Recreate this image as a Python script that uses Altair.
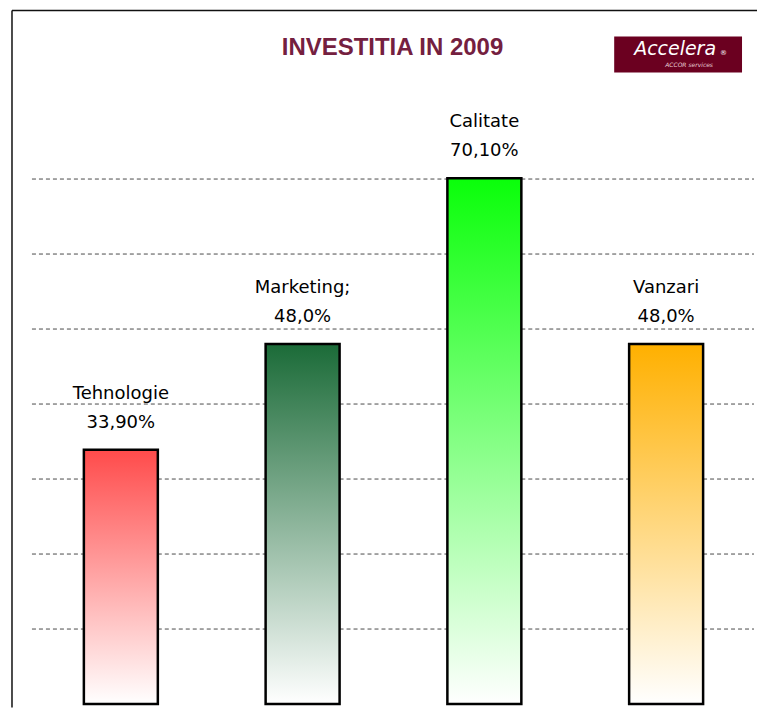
import altair as alt
import pandas as pd

categories = ["Tehnologie", "Marketing", "Calitate", "Vanzari"]
values = [33.9, 48.0, 70.1, 48.0]
name_labels = ["Tehnologie", "Marketing;", "Calitate", "Vanzari"]
value_labels = ["33,90%", "48,0%", "70,10%", "48,0%"]
top_colors = ["#FF4B4B", "#1B6B38", "#0AFF0A", "#FFB000"]
grid_values = [10, 20, 30, 40, 50, 60, 70]

title_text = "INVESTITIA IN 2009"

df = pd.DataFrame({
    "cat": categories,
    "v": values,
    "name": name_labels,
    "val": value_labels,
})
grid_df = pd.DataFrame({"v": grid_values})

W, H = 750, 700
yscale = alt.Scale(domain=[0, 70], range=[696.5, 170.8])
xscale = alt.Scale(domain=categories, range=[22, 750], paddingInner=0.593, paddingOuter=0.2965)

x_enc = alt.X("cat:N", scale=xscale, axis=None, sort=categories)
y_enc = alt.Y("v:Q", scale=yscale, axis=None)

grid = alt.Chart(grid_df).mark_rule(
    color="#4A4A4A", strokeWidth=1, strokeDash=[4, 3]
).encode(
    y=y_enc, x=alt.value(24), x2=alt.value(747)
)

bars = []
for c, col in zip(categories, top_colors):
    grad = alt.Gradient(
        gradient="linear",
        stops=[alt.GradientStop(color=col, offset=0),
               alt.GradientStop(color="#FFFFFF", offset=1)],
        x1=0, x2=0, y1=0, y2=1,
    )
    b = alt.Chart(df).transform_filter(alt.datum.cat == c).mark_bar(
        color=grad, stroke="#000000", strokeWidth=2.5
    ).encode(x=x_enc, y=y_enc)
    bars.append(b)

lbl_val = alt.Chart(df).mark_text(
    font="DejaVu Sans", fontSize=18, color="#000000", baseline="middle", dy=-27
).encode(x=x_enc, y=y_enc, text="val:N")
lbl_name = alt.Chart(df).mark_text(
    font="DejaVu Sans", fontSize=18, color="#000000", baseline="middle", dy=-56
).encode(x=x_enc, y=y_enc, text="name:N")

# frame lines (chart area border, cut off at right/bottom)
frame_v = alt.Chart(grid_df.head(1)).mark_rule(color="#111111", strokeWidth=1.5).encode(
    x=alt.value(4), y=alt.value(2), y2=alt.value(H)
)
frame_h = alt.Chart(grid_df.head(1)).mark_rule(color="#111111", strokeWidth=1.5).encode(
    y=alt.value(2), x=alt.value(4), x2=alt.value(W)
)

title = alt.Chart(pd.DataFrame({"t": [title_text]})).mark_text(
    font="Liberation Sans", fontSize=24, fontWeight="bold", color="#74203F",
    baseline="middle", align="center"
).encode(x=alt.value(385), y=alt.value(40), text="t:N")

logo_box = alt.Chart(pd.DataFrame({"t": ["logo"]})).mark_rect(color="#6B0020").encode(
    x=alt.value(607), x2=alt.value(735), y=alt.value(28), y2=alt.value(64)
)
logo_main = alt.Chart(pd.DataFrame({"t": ["Accelera"]})).mark_text(
    font="DejaVu Sans", fontSize=19, fontStyle="italic", color="#FFFFFF",
    baseline="middle", align="center"
).encode(x=alt.value(668), y=alt.value(41), text="t:N")
logo_reg = alt.Chart(pd.DataFrame({"t": ["®"]})).mark_text(
    font="DejaVu Sans", fontSize=7, color="#FFFFFF", baseline="middle", align="left"
).encode(x=alt.value(713), y=alt.value(45), text="t:N")
logo_sub = alt.Chart(pd.DataFrame({"t": ["ACCOR services"]})).mark_text(
    font="DejaVu Sans", fontSize=6, fontStyle="italic", color="#E8D0D6",
    baseline="middle", align="center"
).encode(x=alt.value(682), y=alt.value(57), text="t:N")

chart = alt.layer(
    grid, *bars, lbl_val, lbl_name, frame_v, frame_h, title,
    logo_box, logo_main, logo_reg, logo_sub
).properties(
    width=W, height=H,
    autosize=alt.AutoSizeParams(type="none"),
    padding=0,
    background="white",
).configure_view(stroke=None)

chart.save("out.html", embed_options={"renderer": "svg", "actions": False})
